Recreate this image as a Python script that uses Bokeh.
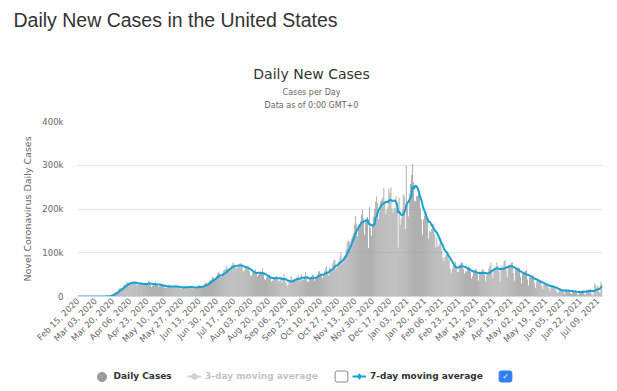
import numpy as np
import pandas as pd
from math import pi
from bokeh.plotting import figure
from bokeh.layouts import column
from bokeh.models import (ColumnDataSource, Range1d, FixedTicker, Label,
                          Legend, LegendItem)
from bokeh.embed import file_html
from bokeh.resources import INLINE

# ---------------- data (daily new cases, thousands) ----------------
start_date = "2020-02-15"
cases_2020_02 = [0, 0, 0, 0, 0, 0, 0.01, 0, 0, 0.02, 0, 0.01, 0.01, 0.01, 0.01]
cases_2020_03 = [0.02, 0.03, 0.02, 0.03, 0.07, 0.1, 0.1, 0.12, 0.17, 0.29, 0.34, 0.46, 0.56, 0.64, 0.77,
                 1.1, 1.7, 2.6, 4.6, 5.4, 6.9, 9.2, 10.7, 11.1, 13.4, 17.8, 18.7, 19.5, 19.4, 21.4, 26.3]
cases_2020_04 = [27.1, 29.9, 32.3, 33.3, 28.2, 29.6, 31.7, 32.5, 34.1, 34.2, 30.6, 28.1, 26.0, 26.9, 30.1,
                 31.6, 32.5, 27.4, 26.5, 26.7, 27.5, 28.4, 30.6, 36.2, 33.6, 26.1, 22.5, 24.4, 26.7, 29.3]
cases_2020_05 = [33.5, 29.1, 25.4, 22.4, 23.9, 25.1, 27.4, 27.4, 25.5, 20.6, 18.6, 21.8, 20.7, 27.4, 25.4,
                 24.0, 18.9, 22.5, 20.3, 21.6, 27.6, 23.7, 22.1, 19.6, 20.3, 17.1, 18.6, 22.6, 23.6, 24.2, 20.3]
cases_2020_06 = [20.7, 20.0, 20.5, 21.6, 24.8, 22.8, 17.9, 17.8, 19.0, 21.0, 22.8, 25.1, 25.5, 19.8, 19.5,
                 23.4, 25.6, 27.8, 31.6, 32.4, 26.1, 31.6, 36.0, 36.9, 39.1, 45.3, 43.0, 40.2, 41.6, 47.0]
cases_2020_07 = [52.4, 56.3, 52.9, 45.9, 44.4, 49.5, 60.2, 61.9, 63.0, 70.2, 63.0, 60.3, 62.3, 69.4, 72.4,
                 77.7, 75.6, 68.7, 63.8, 66.3, 70.1, 74.0, 76.2, 75.7, 68.4, 57.2, 59.7, 66.0, 70.0, 68.0, 69.0]
cases_2020_08 = [58, 48, 47, 54, 55, 58, 62, 55, 46, 49, 55, 54, 52, 64, 53,
                 40, 38, 44, 47, 45, 48, 43, 34, 36, 41, 45, 45, 47, 43, 35, 36]
cases_2020_09 = [41, 31, 44, 51, 42, 31, 24, 27, 34, 36, 47, 40, 34, 36, 39,
                 40, 45, 48, 42, 35, 51, 39, 39, 45, 55, 45, 35, 34, 40, 40]
cases_2020_10 = [46, 50, 49, 36, 40, 44, 50, 57, 58, 53, 46, 41, 49, 58, 64,
                 70, 55, 48, 66, 61, 63, 76, 84, 83, 61, 67, 75, 80, 91, 101, 87]
cases_2020_11 = [76, 93, 94, 108, 124, 128, 127, 110, 131, 139, 145, 164, 184, 167, 137,
                 164, 162, 172, 187, 198, 178, 142, 172, 175, 182, 111, 205, 156, 139, 166]
cases_2020_12 = [182, 200, 217, 229, 214, 176, 193, 219, 222, 225, 248, 218, 189, 199, 204,
                 247, 238, 250, 202, 192, 203, 201, 229, 197, 112, 226, 163, 178, 199, 234, 230]
cases_2021_01 = [154, 299, 209, 183, 235, 257, 278, 303, 262, 218, 219, 229, 230, 236, 242,
                 203, 177, 142, 176, 185, 193, 191, 172, 132, 150, 147, 155, 166, 167, 142, 112]
cases_2021_02 = [135, 113, 118, 122, 134, 105, 88, 81, 91, 95, 103, 100, 83, 64,
                 54, 62, 70, 69, 80, 69, 57, 56, 72, 75, 78, 78, 63, 52]
cases_2021_03 = [58, 57, 67, 68, 67, 58, 41, 47, 57, 58, 63, 62, 51, 36, 53,
                 54, 59, 62, 61, 51, 35, 48, 54, 64, 70, 77, 62, 42, 63, 62, 70]
cases_2021_04 = [78, 70, 57, 33, 71, 60, 71, 80, 83, 60, 44, 72, 72, 75, 77,
                 79, 54, 36, 65, 62, 62, 67, 65, 46, 30, 51, 52, 57, 58, 61]
cases_2021_05 = [39, 25, 43, 45, 45, 47, 48, 32, 20, 35, 38, 37, 35, 38, 24,
                 17, 28, 27, 29, 30, 27, 20, 12, 24, 22, 24, 25, 22, 13, 9, 8]
cases_2021_06 = [18, 17, 17, 16, 11, 6, 14, 16, 15, 16, 14, 8, 5, 13, 13,
                 13, 14, 11, 5, 4, 14, 12, 14, 13, 14, 6, 4, 15, 15, 17]
cases_2021_07 = [15, 18, 5, 3, 6, 30, 25, 20, 25, 11, 8, 33, 28]

x_tick_labels = ["Feb 15, 2020", "Mar 03, 2020", "Mar 20, 2020", "Apr 06, 2020", "Apr 23, 2020",
                 "May 10, 2020", "May 27, 2020", "Jun 13, 2020", "Jun 30, 2020", "Jul 17, 2020",
                 "Aug 03, 2020", "Aug 20, 2020", "Sep 06, 2020", "Sep 23, 2020", "Oct 10, 2020",
                 "Oct 27, 2020", "Nov 13, 2020", "Nov 30, 2020", "Dec 17, 2020", "Jan 03, 2021",
                 "Jan 20, 2021", "Feb 06, 2021", "Feb 23, 2021", "Mar 12, 2021", "Mar 29, 2021",
                 "Apr 15, 2021", "May 02, 2021", "May 19, 2021", "Jun 05, 2021", "Jun 22, 2021",
                 "Jul 09, 2021"]
y_tick_values = [0, 100000, 200000, 300000, 400000]
y_tick_labels = ["0", "100k", "200k", "300k", "400k"]

page_title = "Daily New Cases in the United States"
chart_title = "Daily New Cases"
subtitle_1 = "Cases per Day"
subtitle_2 = "Data as of 0:00 GMT+0"
y_axis_title = "Novel Coronavirus Daily Cases"
series_names = ["Daily Cases", "3-day moving average", "7-day moving average"]

# ---------------- derived ----------------
daily_k = (cases_2020_02 + cases_2020_03 + cases_2020_04 + cases_2020_05 + cases_2020_06 +
           cases_2020_07 + cases_2020_08 + cases_2020_09 + cases_2020_10 + cases_2020_11 +
           cases_2020_12 + cases_2021_01 + cases_2021_02 + cases_2021_03 + cases_2021_04 +
           cases_2021_05 + cases_2021_06 + cases_2021_07)
cases = np.array(daily_k, dtype=float) * 1000
dates = pd.date_range(start_date, periods=len(cases), freq="D")
series = pd.Series(cases)
ma3 = series.rolling(3, min_periods=1).mean().values
ma7 = series.rolling(7, min_periods=1).mean().values
idx = np.arange(len(cases))
src = ColumnDataSource(dict(x=idx, cases=cases, ma3=ma3, ma7=ma7))
tick_idx = [int(dates.get_loc(pd.to_datetime(l, format="%b %d, %Y"))) for l in x_tick_labels]

BAR = "#9c9c9c"
BLUE = "#17a2d3"
FONT = "DejaVu Sans"
W = 617
FRAME_L = 77   # left border shared by all three stacked figures
FRAME_R = 15


def blank_fig(h, **kw):
    f = figure(width=W, height=h, output_backend="svg", toolbar_location=None,
               x_range=Range1d(-1000, -999), y_range=Range1d(-1000, -999),
               x_axis_location=None, y_axis_location=None,
               min_border=0, min_border_left=FRAME_L, min_border_right=FRAME_R,
               min_border_bottom=0, **kw)
    f.outline_line_color = None
    f.xgrid.visible = False
    f.ygrid.visible = False
    return f


# ---------------- header (titles) ----------------
TOP_H = 113
top = blank_fig(TOP_H, title=page_title, min_border_top=30)
top.title.align = "left"
top.title.offset = 13 - FRAME_L
top.title.standoff = 0
top.title.text_font = "Liberation Sans"
top.title.text_font_size = "19.5px"
top.title.text_font_style = "normal"
top.title.text_color = "#333333"
top.title.vertical_align = "bottom"

cx = 311 - FRAME_L
top.add_layout(Label(x=cx, y=40, x_units="screen", y_units="screen", text=chart_title,
                     text_font=FONT, text_font_size="14px", text_color="#333333",
                     text_align="center", text_baseline="alphabetic"))
top.add_layout(Label(x=cx, y=21, x_units="screen", y_units="screen", text=subtitle_1,
                     text_font=FONT, text_font_size="8px", text_color="#666666",
                     text_align="center", text_baseline="alphabetic"))
top.add_layout(Label(x=cx, y=8, x_units="screen", y_units="screen", text=subtitle_2,
                     text_font=FONT, text_font_size="8px", text_color="#666666",
                     text_align="center", text_baseline="alphabetic"))

# ---------------- main chart ----------------
MAIN_H = 251
p = figure(width=W, height=MAIN_H, output_backend="svg", toolbar_location=None,
           x_range=Range1d(-0.5, len(cases) - 0.5), y_range=Range1d(0, 400000),
           min_border_left=FRAME_L, min_border_right=FRAME_R, min_border_top=8, min_border_bottom=68)
p.outline_line_color = None
p.xgrid.visible = False
p.ygrid.grid_line_color = "#e6e6e6"

p.vbar(x="x", top="cases", width=0.78, source=src, fill_color=BAR, line_color=None)
p.line("x", "ma3", source=src, color="#666666", line_width=2, visible=False)
p.line("x", "ma7", source=src, color=BLUE, line_width=2)

yax = p.yaxis[0]
yax.ticker = FixedTicker(ticks=y_tick_values)
yax.major_label_overrides = dict(zip(y_tick_values, y_tick_labels))
yax.axis_line_color = None
yax.major_tick_line_color = None
yax.minor_tick_line_color = None
yax.major_tick_out = 0
yax.major_tick_in = 0
yax.major_label_standoff = 14
yax.major_label_text_font = FONT
yax.major_label_text_font_size = "8.5px"
yax.major_label_text_color = "#666666"
yax.axis_label = y_axis_title
yax.axis_label_standoff = 6
yax.axis_label_text_font = FONT
yax.axis_label_text_font_size = "9.5px"
yax.axis_label_text_font_style = "normal"
yax.axis_label_text_color = "#666666"

xax = p.xaxis[0]
xax.ticker = FixedTicker(ticks=tick_idx)
xax.major_label_overrides = {i: l for i, l in zip(tick_idx, x_tick_labels)}
xax.major_label_orientation = pi / 4
xax.axis_line_color = "#ccd6eb"
xax.major_tick_line_color = None
xax.minor_tick_line_color = None
xax.major_tick_out = 0
xax.major_tick_in = 0
xax.major_label_standoff = 3
xax.major_label_text_font = FONT
xax.major_label_text_font_size = "8.5px"
xax.major_label_text_color = "#666666"

# ---------------- legend strip ----------------
LEG_H = 391 - TOP_H - MAIN_H
leg = blank_fig(LEG_H, min_border_top=0)
cy = 391 - 376  # legend centre, from the strip's bottom
# legend proxies share the real data; the strip's ranges keep them out of view
r_dc_icon = leg.scatter("x", "cases", source=src, marker="circle", fill_color=BAR, line_color=BAR)
r_ma3_line = leg.line("x", "ma3", source=src, color="#666666", line_width=2, visible=False)
r_ma3_icon = leg.scatter("x", "ma3", source=src, marker="circle", fill_color="#666666",
                         line_color="#666666", visible=False)
r_ma7_line = leg.line("x", "ma7", source=src, color=BLUE, line_width=2)
r_ma7_icon = leg.scatter("x", "ma7", source=src, marker="diamond", fill_color=BLUE, line_color=BLUE)


def add_legend(items, px, gw, gh, standoff):
    lg = Legend(items=items, location=(px - FRAME_L, cy - gh / 2), orientation="horizontal",
                padding=0, margin=0, spacing=0, glyph_width=gw, glyph_height=gh,
                label_standoff=standoff, label_height=gh, label_width=10,
                label_text_font=FONT, label_text_font_size="9px",
                label_text_font_style="bold", label_text_color="#333333",
                background_fill_alpha=0, border_line_color=None, click_policy="hide")
    leg.add_layout(lg)


add_legend([LegendItem(label=series_names[0], renderers=[r_dc_icon])], 89.5, 23, 23, 1)
add_legend([LegendItem(label=series_names[1], renderers=[r_ma3_line, r_ma3_icon])], 187, 14, 14, 4)
add_legend([LegendItem(label=series_names[2], renderers=[r_ma7_line, r_ma7_icon])], 352, 14, 14, 4)

box_pad = dict(left=3, right=3, top=1, bottom=1)
leg.add_layout(Label(x=341 - FRAME_L, y=cy, x_units="screen", y_units="screen", text="\u2713",
                     text_font=FONT, text_font_size="8px", text_color="white",
                     text_align="center", text_baseline="middle",
                     background_fill_color="white", border_line_color="#8a8a8a",
                     border_radius=2, padding=box_pad))
leg.add_layout(Label(x=505 - FRAME_L, y=cy, x_units="screen", y_units="screen", text="\u2713",
                     text_font=FONT, text_font_size="8px", text_color="white",
                     text_align="center", text_baseline="middle",
                     background_fill_color="#2f7ff5", border_line_color="#2f7ff5",
                     border_radius=2, padding=box_pad))

layout = column(top, p, leg, spacing=0)
open("out.html", "w").write(file_html(layout, INLINE))
